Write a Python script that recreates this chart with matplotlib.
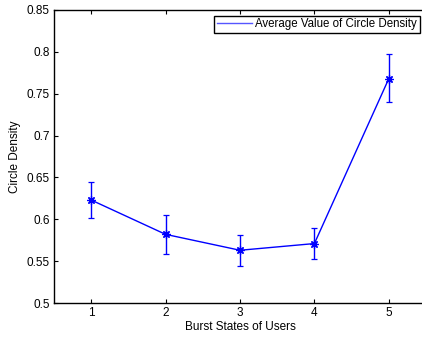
import matplotlib
matplotlib.use('Agg')
import matplotlib.pyplot as plt
from matplotlib.lines import Line2D

states = [1, 2, 3, 4, 5]
density = [0.623, 0.582, 0.563, 0.571, 0.768]
err_low = [0.022, 0.024, 0.0185, 0.018, 0.028]
err_high = [0.022, 0.023, 0.018, 0.018, 0.029]

plt.rcParams['font.family'] = ['Liberation Sans', 'DejaVu Sans']
plt.rcParams['font.size'] = 8.5

fig = plt.figure(figsize=(4.22, 3.39), dpi=100)
ax = fig.add_axes([54 / 422, 36 / 339, 372 / 422, 293 / 339])

ax.errorbar(states, density, yerr=[err_low, err_high], color='blue', marker=(8, 2, 0),
            markersize=6, markeredgewidth=0.9, linewidth=1, elinewidth=1, capsize=2.3)

ax.set_xlim(0.5, 5.5)
ax.set_ylim(0.5, 0.85)
ax.set_xticks(states)
ax.set_yticks([0.5, 0.55, 0.6, 0.65, 0.7, 0.75, 0.8, 0.85])
ax.set_yticklabels(['0.5', '0.55', '0.6', '0.65', '0.7', '0.75', '0.8', '0.85'])
ax.tick_params(direction='in', top=True, right=True, length=3, pad=3)
for sp in ax.spines.values():
    sp.set_linewidth(1.0)
ax.set_xlabel('Burst States of Users', labelpad=1)
ax.set_ylabel('Circle Density', labelpad=4)

# MATLAB legend shows just a line
handle = Line2D([], [], color='#5555ff', linewidth=1)
leg = ax.legend([handle], ['Average Value of Circle Density'], loc='upper right',
                bbox_to_anchor=((420 - 54) / 372, 0.981), fancybox=False, edgecolor='black',
                framealpha=1, borderpad=0.25, handlelength=3.0, handletextpad=0.3,
                borderaxespad=0.0, prop={'size': 8.3})
leg.get_frame().set_linewidth(1.0)

fig.savefig('out.png', dpi=100)
